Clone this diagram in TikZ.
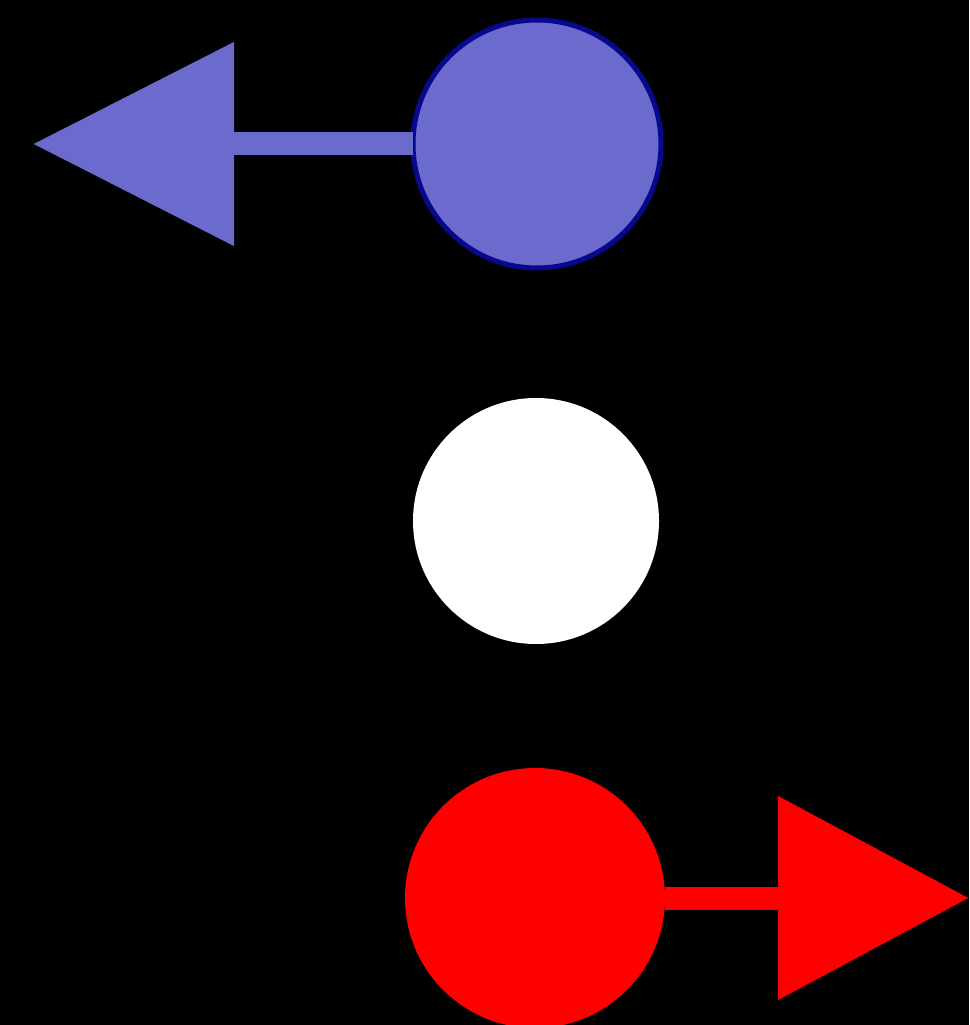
\documentclass[tikz,border=0pt]{standalone}
\usepackage{xcolor}
\usetikzlibrary{arrows.meta}
\definecolor{spinblue}{RGB}{107,107,206}
\definecolor{spinedge}{RGB}{8,8,140}
\definecolor{spinred}{RGB}{255,0,0}
\begin{document}
\begin{tikzpicture}[
  charge/.style={circle, inner sep=0pt, outer sep=0pt},
  spinarrow/.style={line width=0.23cm, -{Triangle[length=#1, width=1.98cm]}},
]
  % frame and background
  \fill[black] (0,0) rectangle (9.69,-10.25);
  \useasboundingbox (0,0) rectangle (9.69,-10.25);
  \clip (0,0) rectangle (9.69,-10.25);

  % three states
  \node[charge, minimum size=2.48cm, fill=spinblue, draw=spinedge, line width=0.05cm] (up) at (5.37,-1.44) {};
  \node[charge, minimum size=2.46cm, fill=white] (mid) at (5.36,-5.21) {};
  \node[charge, minimum size=2.60cm, fill=spinred] (down) at (5.35,-8.98) {};

  \coordinate (uptip) at (0.33,-1.44);
  \coordinate (downtip) at (9.69,-8.98);

  % arrows
  \draw[spinarrow=2.01cm, draw=spinblue, fill=spinblue] (up.west) -- (uptip);
  \draw[spinarrow=1.91cm, draw=spinred, fill=spinred] (down.east) -- (downtip);
\end{tikzpicture}
\end{document}
